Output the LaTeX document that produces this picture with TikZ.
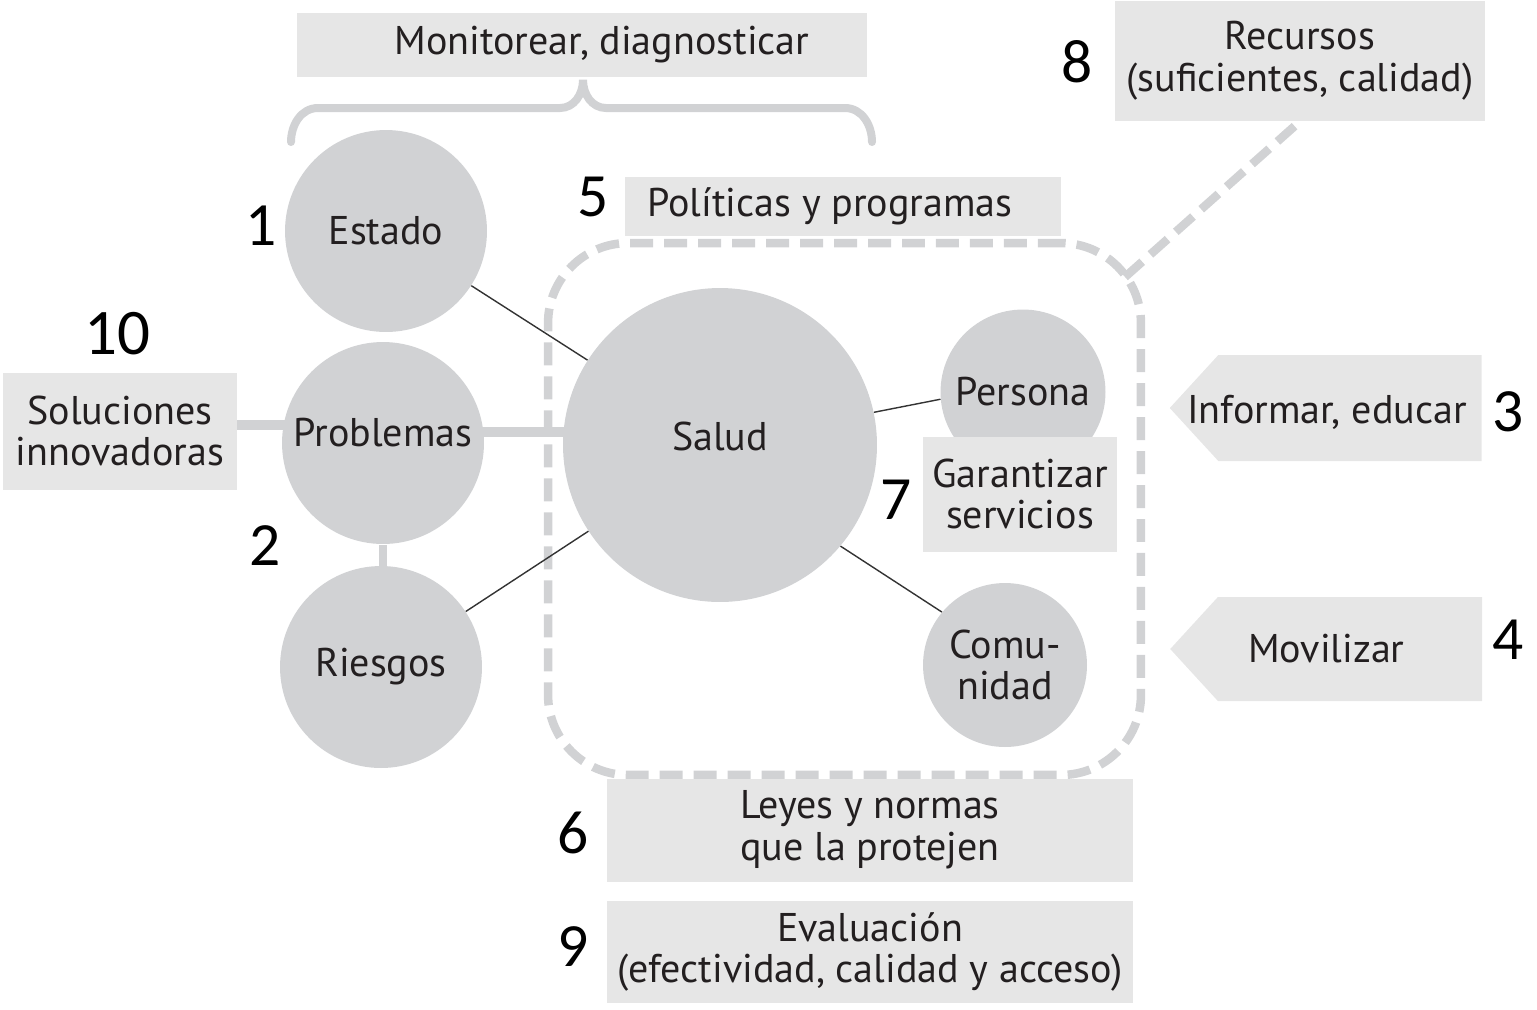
\documentclass[tikz,border=0pt]{standalone}
\usepackage{fontspec}
\setmainfont{PT Sans}
\newfontfamily\numfont{Carlito}
\usepackage{tikz}
\usetikzlibrary{shapes.symbols}
\definecolor{circgray}{HTML}{D1D2D4}
\definecolor{boxgray}{HTML}{E6E6E6}
\definecolor{txt}{HTML}{231F20}
\tikzstyle{circ} = [circle, fill=circgray, text=txt, inner sep=0pt, align=center]
\tikzstyle{box} = [rectangle, fill=boxgray, text=txt, inner sep=0pt, align=center]
\tikzstyle{arrowbox} = [signal, signal to=west, signal pointer angle=95, fill=boxgray, text=txt, inner sep=0pt]
\tikzstyle{num} = [font=\numfont\fontsize{35}{35}\selectfont, text=black]
\tikzset{edge/.style = {
    draw=black!80,
    line width=0.8pt,
  },
  thickedge/.style = {
    draw=circgray,
    line width=0.19cm,
  },
  dashline/.style = {
    draw=circgray,
    line width=0.17cm,
    dash pattern=on 0.46cm off 0.22cm,
  }
}

\begin{document}
\begin{tikzpicture}[x=0.02cm, y=-0.02cm, font=\fontsize{22.8}{23.8}\selectfont]
              \useasboundingbox (0,0) rectangle (1537,1009);

              % frame
              \node[draw=circgray, line width=0.17cm, dash pattern=on 0.46cm off 0.22cm,
                    rounded corners=1.6cm, minimum width=11.86cm, minimum height=10.64cm,
                    inner sep=0pt] (marco) at (844.5,509) {};
              \coordinate (esquina) at (1125,277);

              % boxes
              \node[box, minimum width=11.4cm, minimum height=1.28cm] (monitor) at (582,45) {\hspace*{0.8cm}Monitorear, diagnosticar};
              \node[box, minimum width=7.42cm, minimum height=2.4cm] (recursos) at (1300,61) {Recursos\\(suficientes, calidad)};
              \node[box, minimum width=8.74cm, minimum height=1.18cm] (politicas) at (843,206) {Políticas y programas\hspace*{0.52cm}};
              \node[box, minimum width=4.68cm, minimum height=2.34cm] (soluciones) at (120,431) {Soluciones\\innovadoras};
              \node[arrowbox, minimum width=6.24cm, minimum height=2.12cm] (informar) at (1350,408) {};
              \node[text=txt] (informartxt) at (1327,412) {Informar, educar};
              \node[arrowbox, minimum width=6.24cm, minimum height=2.08cm] (movilizar) at (1350,649) {Movilizar\hspace*{0.95cm}};
              \node[box, minimum width=10.54cm, minimum height=2.06cm] (leyes) at (870,830) {Leyes y normas\\que la protejen};
              \node[box, minimum width=10.54cm, minimum height=2.04cm] (evaluacion) at (870,952) {Evaluación\\(efectividad, calidad y acceso)};

              % thick links
              \draw[thickedge] (soluciones.east) ++(0,-6) -- ++(50,0);
              \draw[thickedge, line width=0.16cm] (383,545) -- (383,570);
              \draw[thickedge] (470,432) -- (580,432);

              % vertices
              \node[circ, minimum size=4.04cm] (estado) at (386,231) {Estado};
              \node[circ, minimum size=4.04cm] (problemas) at (383,443) {\raisebox{0.42cm}{Problemas}};
              \node[circ, minimum size=4.04cm] (riesgos) at (381,667) {Riesgos};
              \node[circ, minimum size=6.28cm] (salud) at (720,445) {\raisebox{0.36cm}{Salud}};
              \node[circ, minimum size=3.3cm] (persona) at (1023,392) {Persona};
              \node[box, minimum width=3.9cm, minimum height=2.3cm] (garantizar) at (1020,494) {Garantizar\\servicios};
              \node[circ, minimum size=3.28cm] (comunidad) at (1005,665) {Comu-\\nidad};

              % edges
              \draw[edge] (estado) -- (salud);
              \draw[edge] (riesgos) -- (salud);
              \draw[edge] (salud.12) -- (persona.185);
              \draw[edge] (salud.-40) -- (comunidad.140);
              \draw[dashline] (esquina) -- (recursos.south);

              % brace
              \draw[draw=circgray, line width=0.16cm, line cap=round]
                (291,142) to[out=90, in=180] (318,108) -- (560,108) to[out=0, in=-90] (583,80)
                to[out=-90, in=180] (606,108) -- (845,108) to[out=0, in=90] (872,142);

              % numbers
              \node[num] (n1) at (261,226) {1};
              \node[num] (n2) at (265,546) {2};
              \node[num] (n3) at (1508,412) {3};
              \node[num] (n4) at (1508,640) {4};
              \node[num] (n5) at (593,197) {5};
              \node[num] (n6) at (573,833) {6};
              \node[num] (n7) at (896,500) {7};
              \node[num] (n8) at (1077,62) {8};
              \node[num] (n9) at (573,947) {9};
              \node[num, font=\numfont\fontsize{37}{37}\selectfont] (n10) at (117,334) {10};
            \end{tikzpicture}
\end{document}
